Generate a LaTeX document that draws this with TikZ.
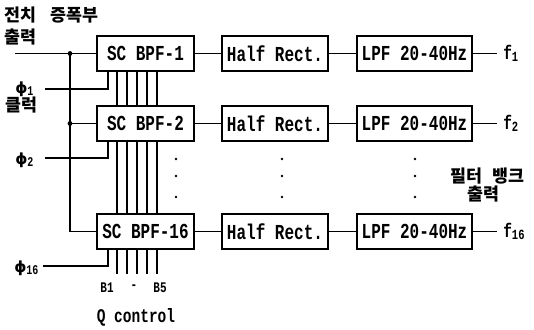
\documentclass[tikz,border=0pt]{standalone}
\usepackage{fontspec}
\newfontfamily\kr{Noto Sans CJK KR}
\newfontfamily\mono{Liberation Mono}[FakeStretch=0.75]
\newfontfamily\dv{DejaVu Sans}
\begin{document}
\begin{tikzpicture}[x=0.75pt,y=-0.75pt,
  box/.style={draw, line width=1.1pt, inner sep=0pt, minimum height=26.25pt,
    font=\mono\bfseries\fontsize{16}{17}\selectfont},
  wire/.style={line width=0.9pt},
  krl/.style={inner sep=0pt, anchor=west, font=\kr\bfseries\fontsize{13}{14}\selectfont},
  lbl/.style={inner sep=0pt, font=\mono\bfseries\fontsize{14.5}{15}\selectfont},
  small/.style={inner sep=0pt, font=\mono\bfseries\fontsize{11}{12}\selectfont},
  phil/.style={inner sep=0pt, anchor=west, font=\dv\bfseries\fontsize{11.5}{12}\selectfont}]
\useasboundingbox (0,0) rectangle (534,329);

% boxes
\foreach \r/\y/\t in {1/53.5/1, 2/123.5/2, 16/231.5/16} {
  \node[box, minimum width=72.75pt] (b\r) at (145.5,\y) {SC BPF-\t};
  \node[box, minimum width=79.5pt] (h\r) at (275,\y) {Half Rect.};
  \node[box, minimum width=86.25pt] (l\r) at (414.5,\y) {LPF 20-40Hz};
  \coordinate (e\r) at (497,\y);
  \node[lbl, anchor=west] (f\r) at (503,\y) {f{\raisebox{-2pt}{\fontsize{10.5}{11}\selectfont\t}}};
  \draw[wire] (b\r.east) -- (h\r.west);
  \draw[wire] (h\r.east) -- (l\r.west);
  \draw[wire] (l\r.east) -- (e\r);
}

% input bus
\coordinate (in) at (15,53.5);
\coordinate (j1) at (70,53.5);
\coordinate (j2) at (70,123.5);
\coordinate (j3) at (70,231.5);
\draw[wire] (in) -- (b1.west);
\draw[wire] (j1) -- (j3) -- (b16.west);
\draw[wire] (j2) -- (b2.west);
\fill (j1) circle[radius=1.8pt];
\fill (j2) circle[radius=1.8pt];

% clock lines
\coordinate (kx) at (108,0);
\coordinate (c1) at (45,89);
\coordinate (c2) at (45,158);
\coordinate (c16) at (43,266);
\draw[wire] (c1) -| (kx |- b1.south);
\draw[wire] (c2) -| (kx |- b2.south);
\draw[wire] (c16) -| (kx |- b16.south);

% Q control lines
\coordinate (qe) at (0,274);
\foreach \x in {117,127,137,147,157} {
  \coordinate (q) at (\x,0);
  \draw[wire] (q |- b1.south) -- (q |- b2.north);
  \draw[wire] (q |- b2.south) -- (q |- b16.north);
  \draw[wire] (q |- b16.south) -- (q |- qe);
}

% continuation dots
\foreach \x in {176,282,415} {
  \foreach \yy in {159,176,197} {
    \fill (\x,\yy) circle[radius=1.1pt];
  }
}

% labels
\node[krl] (t1) at (4,15) {전치\hspace{11pt}증폭부};
\node[krl] (t2) at (4,37) {출력};
\node[krl] (t3) at (5,105) {클럭};
\node[krl] (t4) at (450,176) {필터\hspace{8pt}뱅크};
\node[krl] (t5) at (467,194) {출력};

\node[phil] (p1) at (15,89) {ϕ{\mono\fontsize{10}{11}\selectfont\raisebox{-1.5pt}{1}}};
\node[phil] (p2) at (15,160) {ϕ{\mono\fontsize{10}{11}\selectfont\raisebox{-2pt}{2}}};
\node[phil] (p16) at (14,268) {ϕ{\mono\fontsize{10}{11}\selectfont\raisebox{-2pt}{16}}};

\node[small] (bq1) at (107,287.5) {B1};
\node[small] (bq2) at (134,287.5) {-};
\node[small] (bq3) at (160,287.5) {B5};
\node[lbl] (qc) at (136,317) {Q control};
\end{tikzpicture}
\end{document}
